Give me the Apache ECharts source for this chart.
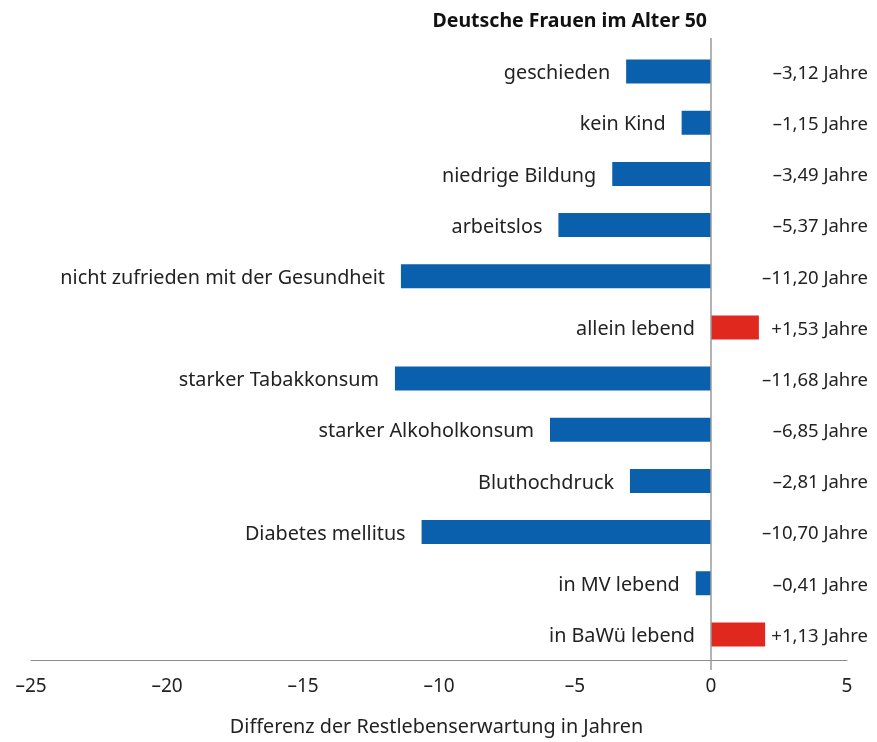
<!DOCTYPE html>
<html>
<head>
<meta charset="utf-8">
<script src="https://cdn.jsdelivr.net/npm/echarts@6/dist/echarts.min.js"></script>
<style>
  html, body { margin: 0; padding: 0; background: #fff; }
  #main { width: 877px; height: 742px; }
</style>
</head>
<body>
<div id="main"></div>
<script>
// categories, top to bottom
var categories = ['geschieden', 'kein Kind', 'niedrige Bildung', 'arbeitslos',
  'nicht zufrieden mit der Gesundheit', 'allein lebend', 'starker Tabakkonsum',
  'starker Alkoholkonsum', 'Bluthochdruck', 'Diabetes mellitus', 'in MV lebend', 'in BaWü lebend'];
// bar lengths as drawn in the picture
var barValues = [-3.12, -1.08, -3.63, -5.61, -11.40, 1.76, -11.62, -5.92, -2.98, -10.64, -0.56, 1.99];
// printed value labels on the right
var valueLabels = ['–3,12 Jahre', '–1,15 Jahre', '–3,49 Jahre', '–5,37 Jahre', '–11,20 Jahre', '+1,53 Jahre',
  '–11,68 Jahre', '–6,85 Jahre', '–2,81 Jahre', '–10,70 Jahre', '–0,41 Jahre', '+1,13 Jahre'];
var xTicks = [-25, -20, -15, -10, -5, 0, 5];

var FONT = 'Noto Sans';
var TXT = '#222';

var chart = echarts.init(document.getElementById('main'));

chart.setOption({
  animation: false,
  textStyle: { fontFamily: FONT },
  title: {
    text: 'Deutsche Frauen im Alter 50',
    right: 165,
    top: 6,
    textStyle: { fontFamily: FONT, fontSize: 19.5, fontWeight: 'bold', color: '#111' }
  },
  grid: { left: 31, right: 30, top: 46, bottom: 80, containLabel: false },
  xAxis: {
    type: 'value',
    min: xTicks[0],
    max: xTicks[xTicks.length - 1],
    interval: 5,
    splitLine: { show: false },
    axisTick: { show: false },
    axisLine: { show: true, onZero: false, lineStyle: { color: '#8a8a8a', width: 1 } },
    axisLabel: {
      margin: 17,
      fontSize: 19,
      color: TXT,
      formatter: function (v) { return String(v).replace('-', '–'); }
    },
    name: 'Differenz der Restlebenserwartung in Jahren',
    nameLocation: 'middle',
    nameGap: 57,
    nameTextStyle: { fontSize: 19.8, color: TXT, padding: [0, 0, 0, -5] }
  },
  yAxis: [
    {
      type: 'category',
      data: categories,
      inverse: true,
      axisLine: { show: false },
      axisTick: { show: false },
      axisLabel: { show: false }
    },
    {
      type: 'category',
      data: categories,
      inverse: true,
      position: 'right',
      axisLine: { show: false },
      axisTick: { show: false },
      axisLabel: {
        align: 'right',
        margin: 21,
        color: TXT,
        formatter: function (v, i) { return '{v|' + valueLabels[i] + '}'; },
        rich: {
          v: { fontSize: 18.5, color: TXT, fontFamily: FONT, padding: [4, 0, 0, 0] }
        }
      }
    }
  ],
  series: [{
    type: 'bar',
    barWidth: 24,
    data: barValues.map(function (v) {
      return { value: v, itemStyle: { color: v > 0 ? '#e0281e' : '#0b60ad' } };
    }),
    label: {
      show: true,
      position: 'left',
      distance: 16,
      offset: [0, 2],
      fontSize: 19.8,
      color: TXT,
      formatter: '{b}'
    }
  }]
});

// zero line through the whole plot, a little past top and bottom
var x0 = chart.convertToPixel({ xAxisIndex: 0 }, 0);
chart.setOption({
  graphic: [{
    type: 'line',
    shape: { x1: x0, y1: 38, x2: x0, y2: 670 },
    style: { stroke: '#9a9a9a', lineWidth: 1.5 },
    z: 10
  }]
});
</script>
</body>
</html>
